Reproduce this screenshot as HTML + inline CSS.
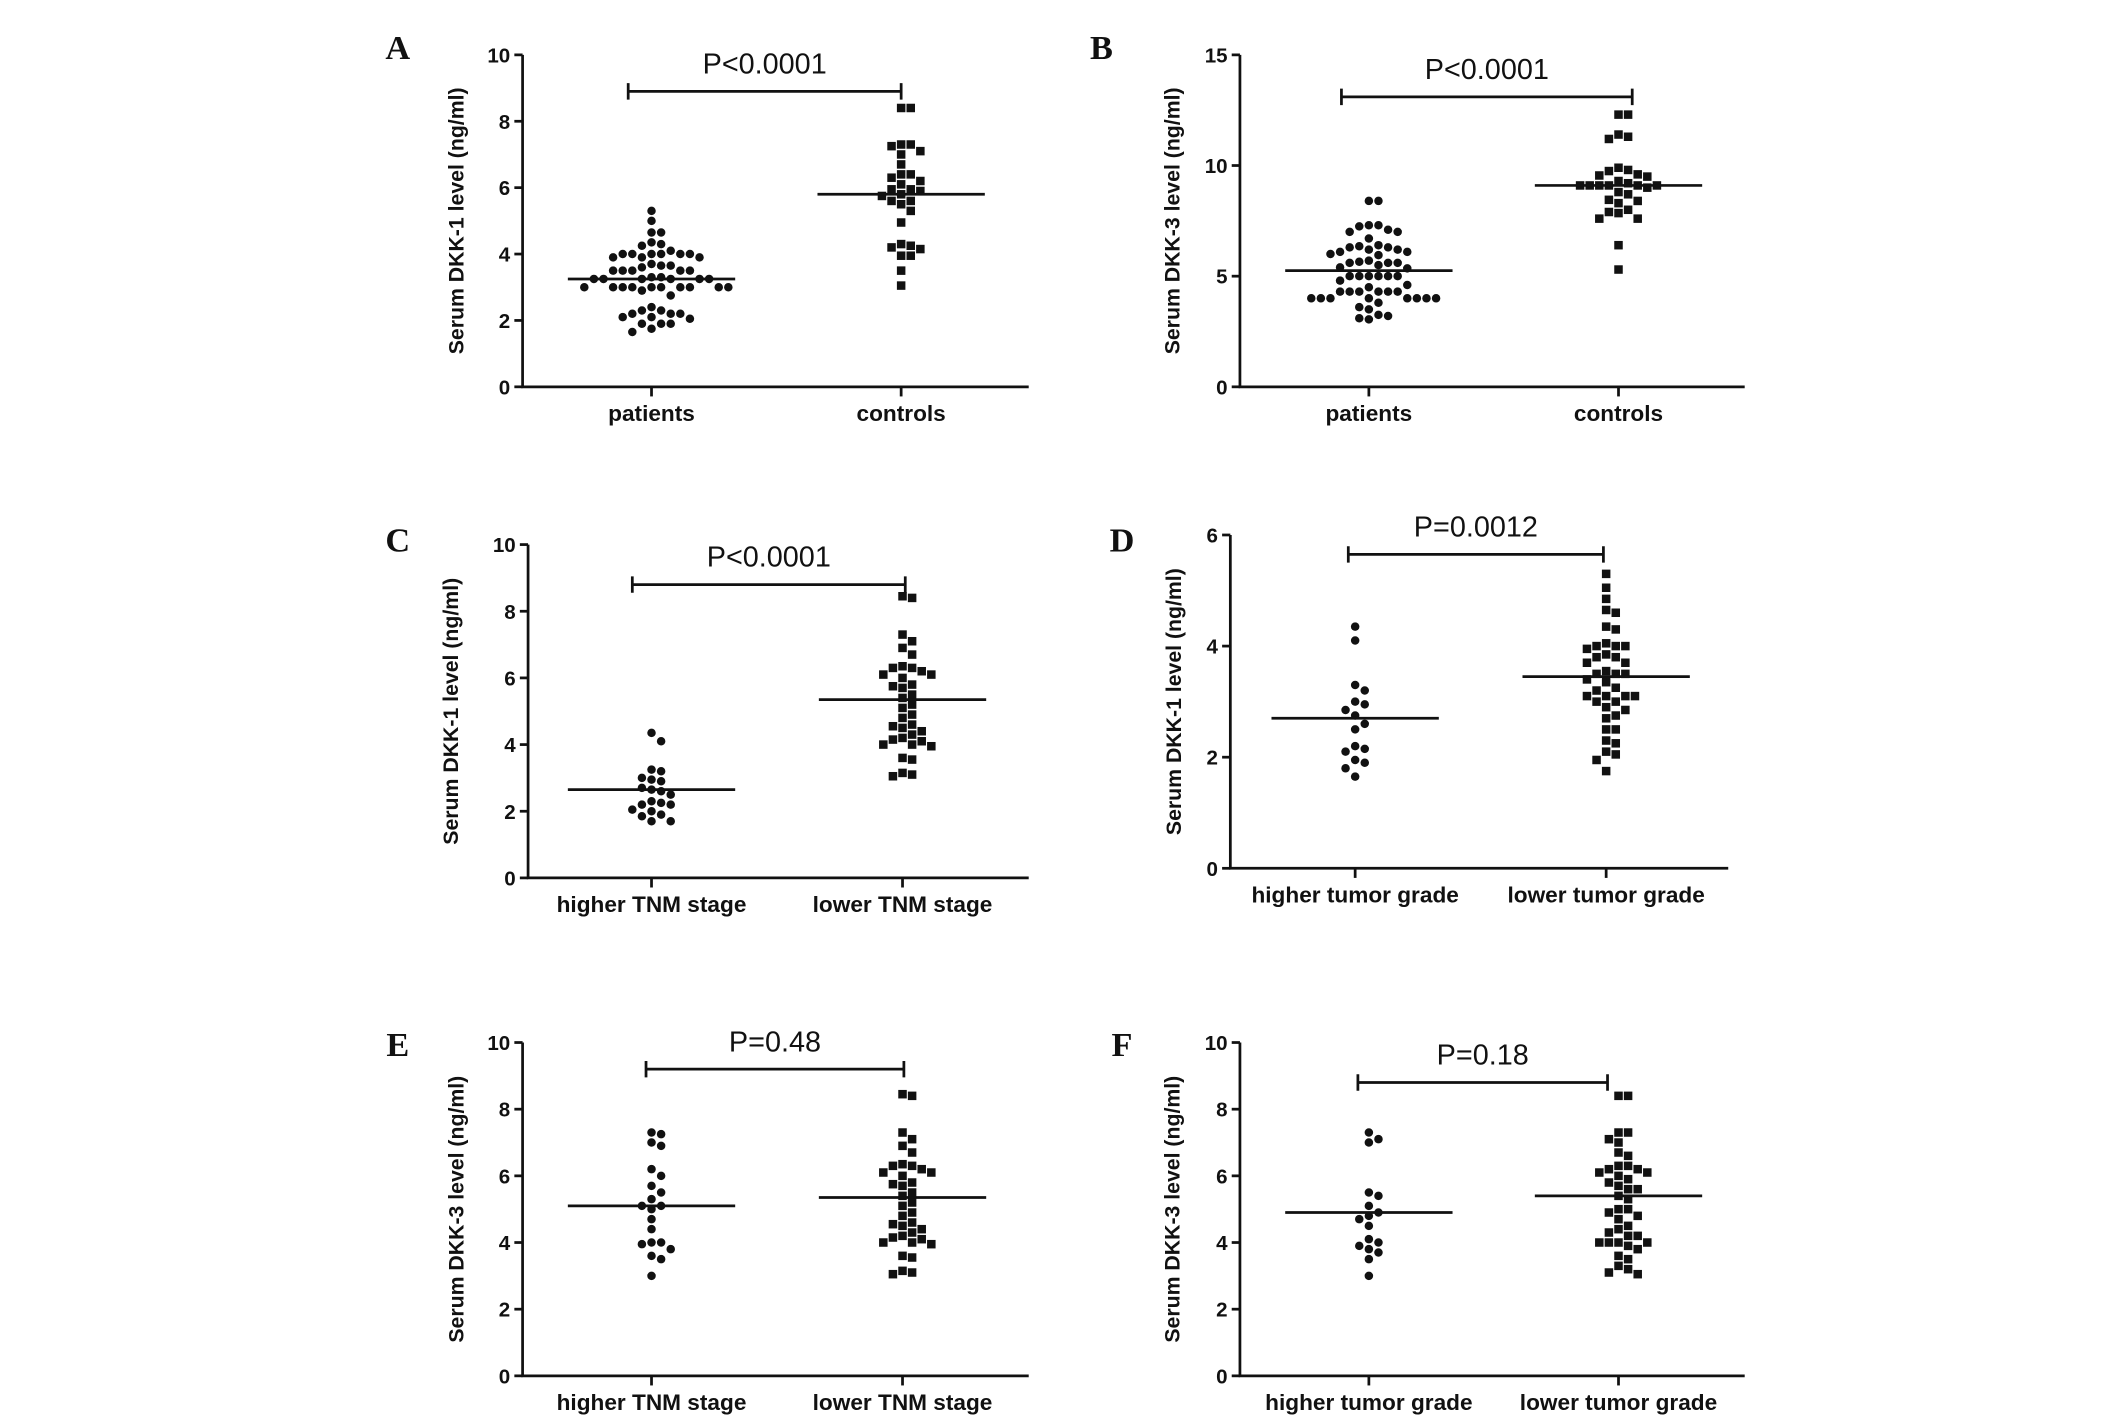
<!DOCTYPE html>
<html><head><meta charset="utf-8">
<style>
html,body{margin:0;padding:0;background:#fff;}
svg{display:block;}
text{font-family:"Liberation Sans",Arial,sans-serif;fill:#111;}
</style></head>
<body>
<svg id="fig" width="2126" height="1417" viewBox="0 0 1550 1033" preserveAspectRatio="none" xmlns="http://www.w3.org/2000/svg"></svg>
<script>
// ---- data ----
const aPatients=[5.3,5.0,4.65,4.65,4.35,4.25,4.3,4.1,4.0,4.0,4.0,4.0,4.0,4.0,3.9,3.9,3.9,3.7,3.65,3.65,3.6,3.5,3.5,3.5,3.5,3.5,3.3,3.3,3.25,3.25,3.25,3.25,3.25,3.25,3.0,3.0,3.0,3.0,3.0,3.0,3.0,3.0,3.0,3.0,2.9,2.75,2.4,2.3,2.3,2.2,2.2,2.2,2.1,2.1,2.05,1.9,1.9,1.9,1.75,1.65];
const aControls=[8.4,8.4,7.3,7.25,7.3,7.1,7.0,6.7,6.4,6.3,6.4,6.2,6.1,5.95,5.9,5.95,5.8,5.75,5.6,5.5,5.6,5.3,4.95,4.3,4.25,4.2,4.15,3.95,3.95,3.5,3.05];
const bPatients=[8.4,8.4,7.3,7.3,7.25,7.1,7.0,7.0,6.7,6.4,6.3,6.3,6.35,6.2,6.1,6.2,6.1,6.0,5.95,5.7,5.6,5.6,5.6,5.65,5.4,5.35,5.5,5.0,5.0,5.0,5.0,5.0,5.0,4.8,4.5,4.6,4.3,4.3,4.3,4.3,4.3,4.3,4.0,4.0,4.0,4.0,4.0,4.0,4.0,4.0,3.8,3.6,3.5,3.25,3.2,3.05,3.1];
const bControls=[12.3,12.3,11.4,11.3,11.2,9.9,9.8,9.75,9.6,9.5,9.55,9.3,9.2,9.1,9.1,9.1,9.1,9.1,9.1,9.0,8.8,8.7,8.4,8.3,8.45,8.0,7.9,7.85,7.6,7.6,6.4,5.3];
const cHigher=[4.35,4.1,3.25,3.2,3.0,2.95,2.9,2.7,2.6,2.65,2.5,2.3,2.2,2.25,2.2,2.05,2.0,1.9,1.85,1.7,1.7];
const tnmLower=[8.45,8.4,7.3,7.1,6.9,6.7,6.35,6.3,6.2,6.3,6.1,6.0,6.1,5.8,5.7,5.75,5.5,5.4,5.2,5.1,4.9,4.8,4.6,4.5,4.55,4.4,4.3,4.2,4.1,4.15,4.0,3.95,4.0,3.6,3.55,3.15,3.1,3.05];
const dHigher=[4.35,4.1,3.3,3.2,3.0,2.95,2.85,2.75,2.6,2.5,2.2,2.15,2.1,1.95,1.9,1.8,1.65];
const dLower=[5.3,5.05,4.85,4.65,4.6,4.35,4.3,4.05,4.0,4.0,4.0,3.95,3.85,3.8,3.8,3.7,3.7,3.55,3.5,3.5,3.5,3.4,3.35,3.25,3.2,3.1,3.1,3.1,3.1,3.0,3.0,2.9,2.85,2.75,2.7,2.5,2.5,2.3,2.25,2.1,2.05,1.95,1.75];
const eHigher=[7.3,7.25,7.0,6.9,6.2,6.0,5.7,5.5,5.3,5.1,5.0,5.1,4.7,4.4,4.0,4.0,3.95,3.8,3.6,3.5,3.0];
const fHigher=[7.3,7.1,7.0,5.5,5.4,5.1,4.9,4.8,4.7,4.5,4.1,4.0,3.9,3.8,3.7,3.5,3.0];
const fLower=[8.4,8.4,7.3,7.3,7.1,7.0,6.7,6.6,6.3,6.2,6.2,6.3,6.1,6.0,6.1,5.9,5.8,5.7,5.6,5.6,5.4,5.3,5.0,4.9,5.0,4.8,4.7,4.5,4.4,4.3,4.2,4.2,4.0,4.0,4.0,4.0,3.9,3.8,3.6,3.5,3.3,3.2,3.1,3.05];
const medians=[[3.25,5.8],[5.25,9.1],[2.65,5.35],[2.7,3.45],[5.1,5.35],[4.9,5.4]];
const pLabels=["P<0.0001","P<0.0001","P<0.0001","P=0.0012","P=0.48","P=0.18"];
const letters=["A","B","C","D","E","F"];
const yMaxes=[10,15,10,6,10,10];
const yTickSteps=[2,5,2,2,2,2];
const categories=[["patients","controls"],["patients","controls"],["higher TNM stage","lower TNM stage"],["higher tumor grade","lower tumor grade"],["higher TNM stage","lower TNM stage"],["higher tumor grade","lower tumor grade"]];
const yTitles=["Serum DKK-1 level (ng/ml)","Serum DKK-3 level (ng/ml)","Serum DKK-1 level (ng/ml)","Serum DKK-1 level (ng/ml)","Serum DKK-3 level (ng/ml)","Serum DKK-3 level (ng/ml)"];
const seriesData=[[aPatients,aControls],[bPatients,bControls],[cHigher,tnmLower],[dHigher,dLower],[eHigher,tnmLower],[fHigher,fLower]];
const sigHeights=[8.9,13.1,8.8,5.65,9.2,8.8];

// ---- layout ----
const layouts=[
 {ax:381,top:40,bot:282,right:750,c:[475,657],bar:[458,657],lx:290,ly:43,ttlx:338},
 {ax:904,top:40,bot:282,right:1272,c:[998,1180],bar:[978,1190],lx:803,ly:43,ttlx:860},
 {ax:385,top:397,bot:640,right:750,c:[475,658],bar:[461,660],lx:290,ly:402,ttlx:334},
 {ax:897,top:390,bot:633,right:1260,c:[988,1171],bar:[983,1169],lx:818,ly:402,ttlx:861},
 {ax:381,top:760,bot:1003,right:750,c:[475,658],bar:[471,659],lx:290,ly:770,ttlx:338},
 {ax:904,top:760,bot:1003,right:1272,c:[998,1180],bar:[990,1172],lx:818,ly:770,ttlx:860}
];
const NS="http://www.w3.org/2000/svg";
const svg=document.getElementById('fig');
function mk(tag,attrs,parent){const e=document.createElementNS(NS,tag);for(const k in attrs)e.setAttribute(k,attrs[k]);(parent||svg).appendChild(e);return e;}
function swarm(vals,yf,d){
  const sorted=vals.slice().sort((a,b)=>b-a);const placed=[];
  sorted.forEach(v=>{const y=yf(v);
    for(let k=0;k<60;k++){const off=(k%2?1:-1)*Math.ceil(k/2)*d;
      if(placed.every(p=>(p.x-off)**2+(p.y-y)**2>=d*d*0.85)){placed.push({x:off,y:y,v:v});break;}}});
  return placed;
}
layouts.forEach((L,i)=>{
  const g=mk('g',{});
  
  
  const yMax=yMaxes[i];
  const y=v=>L.bot-(v/yMax)*(L.bot-L.top);
  const lt=mk('text',{x:L.lx,y:L.ly,'font-size':25,'font-weight':'bold','text-anchor':'middle',style:'font-family:"Liberation Serif",serif'},g);
  lt.textContent=letters[i];
  
  
  const ya=mk('line',{x1:L.ax,y1:L.top,x2:L.ax,y2:L.bot,stroke:'#111','stroke-width':2},g);
  
  
  const xa=mk('line',{x1:L.ax-1,y1:L.bot,x2:L.right,y2:L.bot,stroke:'#111','stroke-width':2},g);
  
  
  for(let t=0;t<=yMax;t+=yTickSteps[i]){
    mk('line',{x1:L.ax-6,y1:y(t),x2:L.ax,y2:y(t),stroke:'#111','stroke-width':2},g);
    const tl=mk('text',{x:L.ax-9,y:y(t)+5.5,'font-size':15,'font-weight':'bold','text-anchor':'end'},g);
    tl.textContent=t;
    
    
  }
  const yt=mk('text',{x:L.ttlx,y:(L.top+L.bot)/2,'font-size':15.5,'font-weight':'bold','text-anchor':'middle',transform:`rotate(-90 ${L.ttlx} ${(L.top+L.bot)/2})`},g);
  yt.textContent=yTitles[i];
  
  
  L.c.forEach((cx,j)=>{
    mk('line',{x1:cx,y1:L.bot,x2:cx,y2:L.bot+7,stroke:'#111','stroke-width':2},g);
    const cl=mk('text',{x:cx,y:L.bot+25,'font-size':16.5,'font-weight':'bold','text-anchor':'middle'},g);
    cl.textContent=categories[i][j];
    
    
    const pts=swarm(seriesData[i][j],y,7.0);
    pts.forEach(p=>{
      let m;
      if(j===0){m=mk('circle',{cx:cx+p.x,cy:p.y,r:3.1,fill:'#111'},g);}
      else{m=mk('rect',{x:cx+p.x-3.1,y:p.y-3.1,width:6.2,height:6.2,fill:'#111'},g);}
      
      
    });
    const med=mk('line',{x1:cx-61,y1:y(medians[i][j]),x2:cx+61,y2:y(medians[i][j]),stroke:'#111','stroke-width':2},g);
    
    
  });
  const by=y(sigHeights[i]);
  const sb=mk('path',{d:`M${L.bar[0]},${by-6}V${by+6}M${L.bar[0]},${by}H${L.bar[1]}M${L.bar[1]},${by-6}V${by+6}`,stroke:'#111','stroke-width':2,fill:'none'},g);
  
  
  const pt=mk('text',{x:(L.bar[0]+L.bar[1])/2,y:by-13,'font-size':21,'text-anchor':'middle'},g);
  pt.textContent=pLabels[i];
  
  
});
</script>
</body></html>
